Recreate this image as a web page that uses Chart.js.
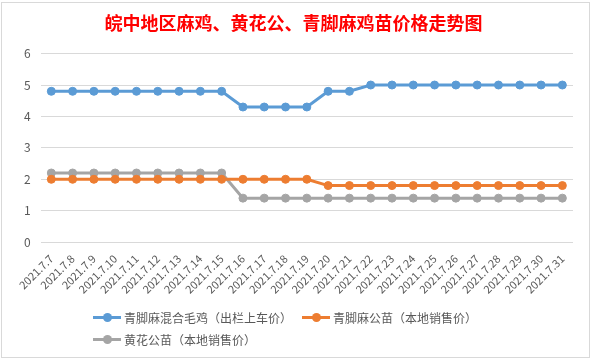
<!DOCTYPE html>
<html>
<head>
<meta charset="utf-8">
<script src="https://cdn.jsdelivr.net/npm/chart.js@4/dist/chart.umd.min.js"></script>
<style>
  html, body { margin: 0; padding: 0; background: #fff; }
  #wrap { position: relative; width: 589px; height: 356px; margin: 2px 1px; border: 1px solid #d9d9d9; box-sizing: border-box; }
  #c { position: absolute; left: -2px; top: -3px; }
  #legend { position: absolute; left: 91px; top: 302px; width: 430px; font: 12px "Noto Sans CJK SC", sans-serif; color: #595959; }
  .item { display: inline-flex; align-items: center; height: 18px; margin-right: 10px; white-space: nowrap; }
  .mark { position: relative; width: 28px; height: 3px; margin-right: 3px; }
  .mark i { position: absolute; left: 10px; top: -3px; width: 9px; height: 9px; border-radius: 50%; }
</style>
</head>
<body>
<div id="wrap">
  <canvas id="c" width="591" height="360"></canvas>
  <div id="legend"></div>
</div>
<script>
var dates = ['2021.7.7', '2021.7.8', '2021.7.9', '2021.7.10', '2021.7.11', '2021.7.12', '2021.7.13',
  '2021.7.14', '2021.7.15', '2021.7.16', '2021.7.17', '2021.7.18', '2021.7.19', '2021.7.20',
  '2021.7.21', '2021.7.22', '2021.7.23', '2021.7.24', '2021.7.25', '2021.7.26', '2021.7.27',
  '2021.7.28', '2021.7.29', '2021.7.30', '2021.7.31'];

var seriesNames = ['青脚麻混合毛鸡（出栏上车价）', '青脚麻公苗（本地销售价）', '黄花公苗（本地销售价）'];
var seriesColors = ['#5b9bd5', '#ed7d31', '#a5a5a5'];

var mixedChicken = [4.8, 4.8, 4.8, 4.8, 4.8, 4.8, 4.8, 4.8, 4.8, 4.3, 4.3, 4.3, 4.3,
  4.8, 4.8, 5, 5, 5, 5, 5, 5, 5, 5, 5, 5];
var qingjiaoChick = [2, 2, 2, 2, 2, 2, 2, 2, 2, 2, 2, 2, 2,
  1.8, 1.8, 1.8, 1.8, 1.8, 1.8, 1.8, 1.8, 1.8, 1.8, 1.8, 1.8];
var huanghuaChick = [2.2, 2.2, 2.2, 2.2, 2.2, 2.2, 2.2, 2.2, 2.2, 1.4, 1.4, 1.4, 1.4,
  1.4, 1.4, 1.4, 1.4, 1.4, 1.4, 1.4, 1.4, 1.4, 1.4, 1.4, 1.4];

var yMin = 0, yMax = 6, yStep = 1;

var allValues = [mixedChicken, qingjiaoChick, huanghuaChick];
var datasets = [];
for (var i = 0; i < allValues.length; i++) {
  datasets.push({
    label: seriesNames[i],
    data: allValues[i],
    borderColor: seriesColors[i],
    backgroundColor: seriesColors[i],
    borderWidth: 3,
    pointRadius: 4,
    pointHoverRadius: 4,
    pointBorderWidth: 1,
    tension: 0
  });
}

var chart = new Chart(document.getElementById('c').getContext('2d'), {
  type: 'line',
  data: { labels: dates, datasets: datasets },
  options: {
    responsive: false,
    animation: false,
    layout: { padding: { left: 14, right: 18, top: 4, bottom: 62 } },
    plugins: {
      legend: { display: false },
      tooltip: { enabled: false },
      title: {
        display: true,
        text: '皖中地区麻鸡、黄花公、青脚麻鸡苗价格走势图',
        color: '#ff0000',
        font: { family: '"Noto Sans CJK SC", sans-serif', size: 18, weight: 'bold' },
        padding: { top: 8, bottom: 20 }
      }
    },
    scales: {
      x: {
        offset: true,
        grid: { display: false },
        border: { display: false },
        ticks: {
          color: '#595959',
          font: { family: '"Noto Sans CJK SC", sans-serif', size: 11 },
          minRotation: 45,
          maxRotation: 45,
          autoSkip: false,
          padding: 2
        }
      },
      y: {
        min: yMin,
        max: yMax,
        grid: { color: '#d9d9d9', drawTicks: false },
        border: { display: false },
        ticks: {
          stepSize: yStep,
          color: '#595959',
          padding: 10,
          font: { family: '"Noto Sans CJK SC", sans-serif', size: 12 }
        }
      }
    }
  }
});

// legend in Excel style: line with a dot, rows left-aligned
var legend = document.getElementById('legend');
chart.data.datasets.forEach(function (ds) {
  var item = document.createElement('span');
  item.className = 'item';
  item.innerHTML = '<span class="mark" style="background:' + ds.borderColor + '"><i style="background:' +
    ds.borderColor + '"></i></span>' + ds.label;
  legend.appendChild(item);
});
</script>
</body>
</html>
